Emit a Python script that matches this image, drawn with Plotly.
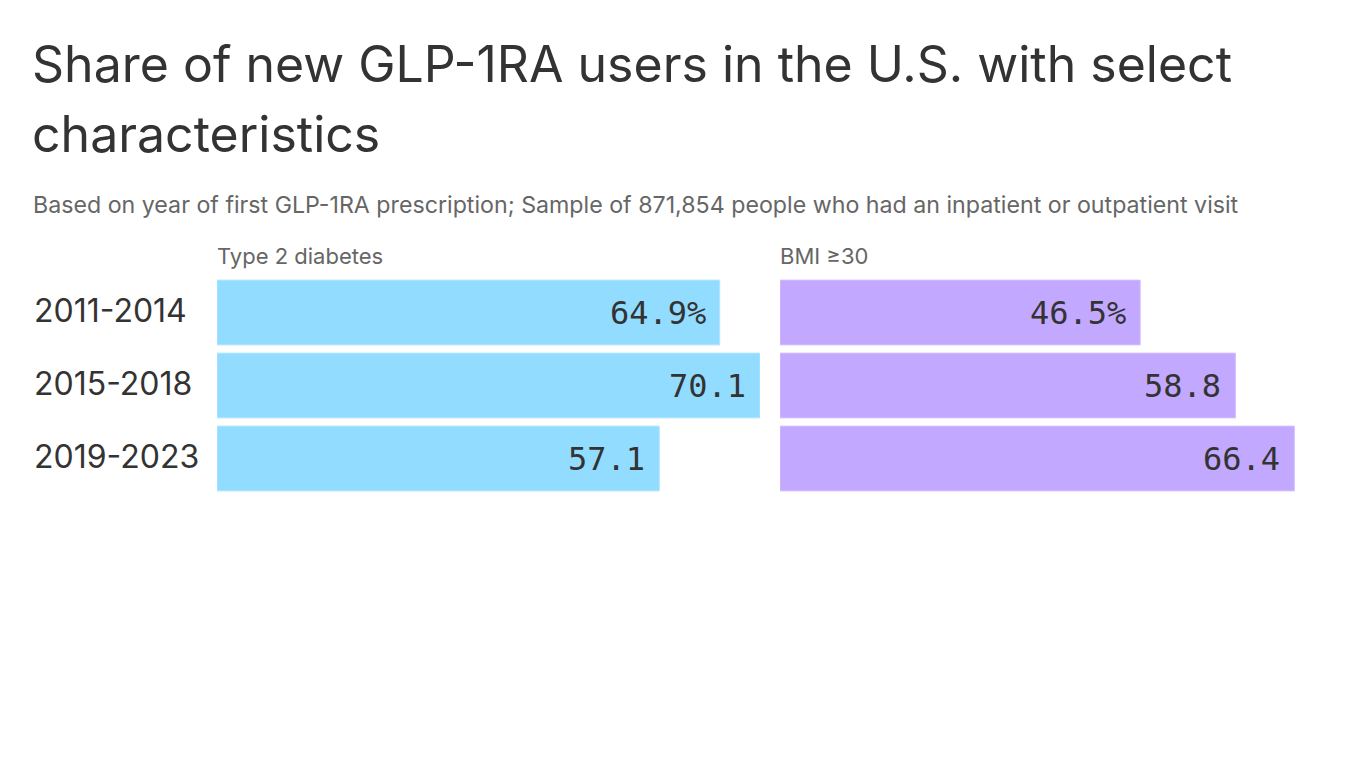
import plotly.graph_objects as go

periods = ["2011-2014", "2015-2018", "2019-2023"]
diabetes = [64.9, 70.1, 57.1]
bmi = [46.5, 58.8, 66.4]
diabetes_labels = ["64.9%", "70.1", "57.1"]
bmi_labels = ["46.5%", "58.8", "66.4"]
panel_titles = ["Type 2 diabetes", "BMI ≥30"]
title_lines = ["Share of new GLP-1RA users in the U.S. with select", "characteristics"]
subtitle = "Based on year of first GLP-1RA prescription; Sample of 871,854 people who had an inpatient or outpatient visit"

W, H = 1366, 768
BLUE = "#92dcff"
PURPLE = "#c2a9ff"
TEXT = "#333333"
GRAY = "#666666"

fig = go.Figure()
fig.add_trace(go.Bar(y=periods, x=diabetes, orientation="h", xaxis="x", yaxis="y",
                     marker=dict(color=BLUE, line=dict(color="#b5e7ff", width=1)),
                     hoverinfo="skip"))
fig.add_trace(go.Bar(y=periods, x=bmi, orientation="h", xaxis="x2", yaxis="y2",
                     marker=dict(color=PURPLE, line=dict(color="#d3c0ff", width=1)),
                     hoverinfo="skip"))

ydom = [1 - 495 / H, 1 - 276 / H]
xmax = max(max(diabetes), max(bmi))

anns = []
mono = dict(family="DejaVu Sans Mono", size=32, color=TEXT)
for i, (xr, yr, vals, labs) in enumerate((("x", "y", diabetes, diabetes_labels),
                                          ("x2", "y2", bmi, bmi_labels))):
    for p, v, l in zip(periods, vals, labs):
        anns.append(dict(x=v, y=p, xref=xr, yref=yr, text=l, showarrow=False,
                         xanchor="right", yanchor="middle", xshift=-12, font=mono))
    anns.append(dict(x=0, y=1 - 256 / H, xref=xr + " domain", yref="paper",
                     text=panel_titles[i], showarrow=False, xanchor="left",
                     yanchor="middle", xshift=-2,
                     font=dict(family="Inter", size=22, color=GRAY)))

for p in periods:
    anns.append(dict(x=32 / W, y=p, xref="paper", yref="y", text=p, showarrow=False,
                     xanchor="left", yanchor="middle", yshift=2,
                     font=dict(family="Inter", size=32, color=TEXT)))

for line, yc in zip(title_lines, (64, 134)):
    anns.append(dict(x=30 / W, y=1 - yc / H, xref="paper", yref="paper", text=line,
                     showarrow=False, xanchor="left", yanchor="middle", align="left",
                     font=dict(family="Inter", size=50, color=TEXT)))
anns.append(dict(x=31 / W, y=1 - 205 / H, xref="paper", yref="paper", text=subtitle,
                 showarrow=False, xanchor="left", yanchor="middle",
                 font=dict(family="Inter", size=23.2, color=GRAY)))

axis_common = dict(showgrid=False, zeroline=False, showticklabels=False, showline=False,
                   range=[0, xmax], fixedrange=True)
fig.update_layout(
    width=W, height=H,
    margin=dict(l=0, r=0, t=0, b=0),
    paper_bgcolor="white", plot_bgcolor="white",
    showlegend=False, bargap=0.113,
    xaxis=dict(domain=[217 / W, 760 / W], **axis_common),
    xaxis2=dict(domain=[780 / W, 1323 / W], **axis_common),
    yaxis=dict(domain=ydom, autorange="reversed", showticklabels=False, showgrid=False,
               zeroline=False, categoryorder="array", categoryarray=periods),
    yaxis2=dict(domain=ydom, autorange="reversed", showticklabels=False, showgrid=False,
                zeroline=False, anchor="x2", categoryorder="array", categoryarray=periods),
    annotations=anns,
)
fig.write_html("out.html", config={"displayModeBar": False},
               post_script="document.body.style.margin='0px';")
